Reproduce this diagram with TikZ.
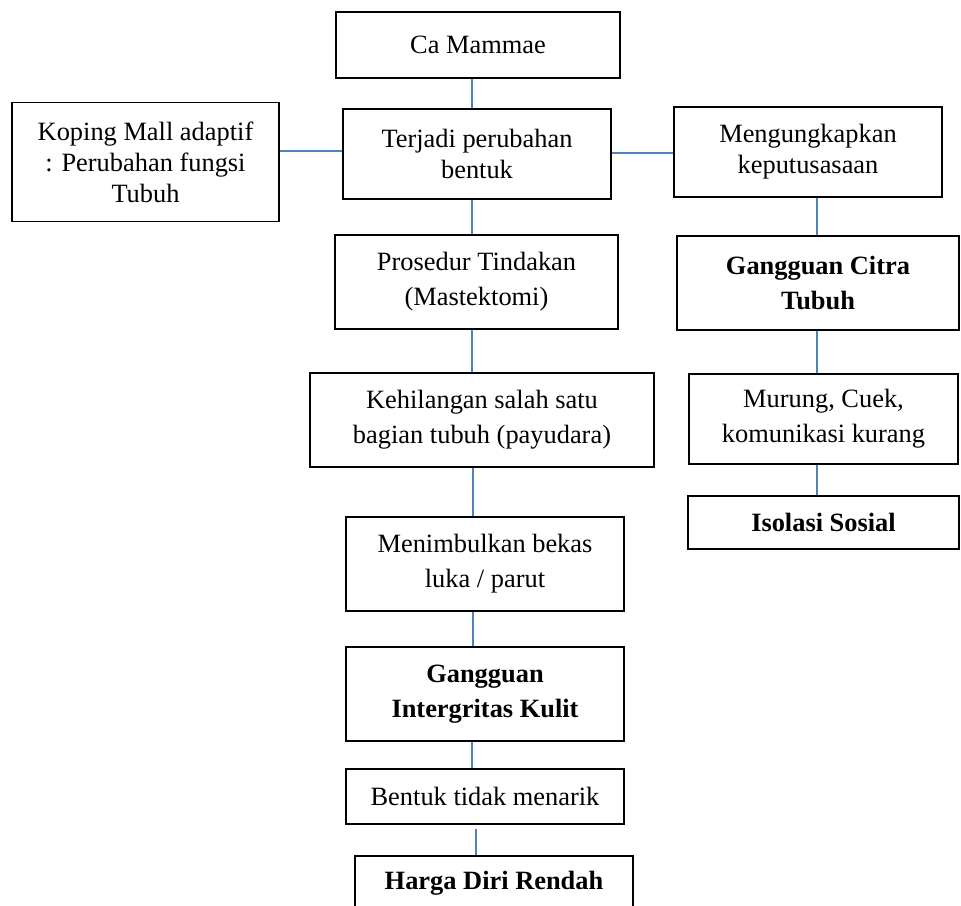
\documentclass[tikz,border=0pt]{standalone}
\usepackage{fontspec}
\setmainfont{Liberation Serif}
\usetikzlibrary{calc}
\definecolor{linkblue}{RGB}{79,129,189}
\tikzset{
  box/.style={draw=black, line width=1.4pt, rectangle, align=center, inner sep=0pt,
    font=\fontsize{26.4}{35}\selectfont},
  boxtight/.style={box, font=\fontsize{26.4}{31}\selectfont},
  conn/.style={draw=linkblue, line width=1.4pt}
}
\begin{document}
\begin{tikzpicture}[x=1pt,y=-1pt]
\clip (0,0) rectangle (961,905);
\fill[white] (0,0) rectangle (961,905);
% left / centre column
\node[box, minimum width=284pt, minimum height=66pt] (ca) at (478,45) {Ca Mammae};
\node[boxtight, minimum width=267pt, minimum height=119pt] (koping) at (145.5,162) {Koping Mall adaptif\\: Perubahan fungsi\\Tubuh};
\node[boxtight, minimum width=268pt, minimum height=90pt] (terjadi) at (477,154) {Terjadi perubahan\\bentuk};
\node[boxtight, minimum width=268pt, minimum height=90pt] (meng) at (808,152) {Mengungkapkan\\keputusasaan};
\node[box, minimum width=283pt, minimum height=94pt] (pros) at (476.5,282) {Prosedur Tindakan\\(Mastektomi)};
\node[box, minimum width=344pt, minimum height=94pt] (keh) at (482,420) {Kehilangan salah satu\\bagian tubuh (payudara)};
\node[box, minimum width=278pt, minimum height=94pt] (men) at (485,564) {Menimbulkan bekas\\luka / parut};
\node[box, minimum width=278pt, minimum height=94pt, font=\fontsize{26.4}{35}\selectfont\bfseries] (gik) at (485,694) {Gangguan\\Intergritas Kulit};
\node[box, minimum width=278pt, minimum height=55pt] (ben) at (485,796.5) {Bentuk tidak menarik};
\node[box, minimum width=278pt, minimum height=54pt, font=\fontsize{26.4}{35}\selectfont\bfseries] (harga) at (494,883) {Harga Diri Rendah};
% right column
\node[box, minimum width=282pt, minimum height=94pt, font=\fontsize{26.4}{35}\selectfont\bfseries] (citra) at (818,283) {Gangguan Citra\\Tubuh};
\node[box, minimum width=269pt, minimum height=90pt] (mur) at (823.5,419) {Murung, Cuek,\\komunikasi kurang};
\node[box, minimum width=271pt, minimum height=53pt, font=\fontsize{26.4}{35}\selectfont\bfseries] (iso) at (823.5,522.5) {Isolasi Sosial};
% connectors
\draw[conn] (ca.south -| 472,0) -- (terjadi.north -| 472,0);
\draw[conn] (koping.east |- 0,151) -- (terjadi.west |- 0,151);
\draw[conn] (terjadi.east |- 0,153) -- (meng.west |- 0,153);
\draw[conn] (terjadi.south -| 472,0) -- (pros.north -| 472,0);
\draw[conn] (pros.south -| 472,0) -- (keh.north -| 472,0);
\draw[conn] (keh.south -| 473,0) -- (men.north -| 473,0);
\draw[conn] (men.south -| 473,0) -- (gik.north -| 473,0);
\draw[conn] (gik.south -| 472,0) -- (ben.north -| 472,0);
\draw[conn] ($(ben.south -| 476,0)+(0,4)$) -- (harga.north -| 476,0);
\draw[conn] (meng.south -| 817,0) -- (citra.north -| 817,0);
\draw[conn] (citra.south -| 817,0) -- (mur.north -| 817,0);
\draw[conn] (mur.south -| 817,0) -- (iso.north -| 817,0);
\end{tikzpicture}
\end{document}
